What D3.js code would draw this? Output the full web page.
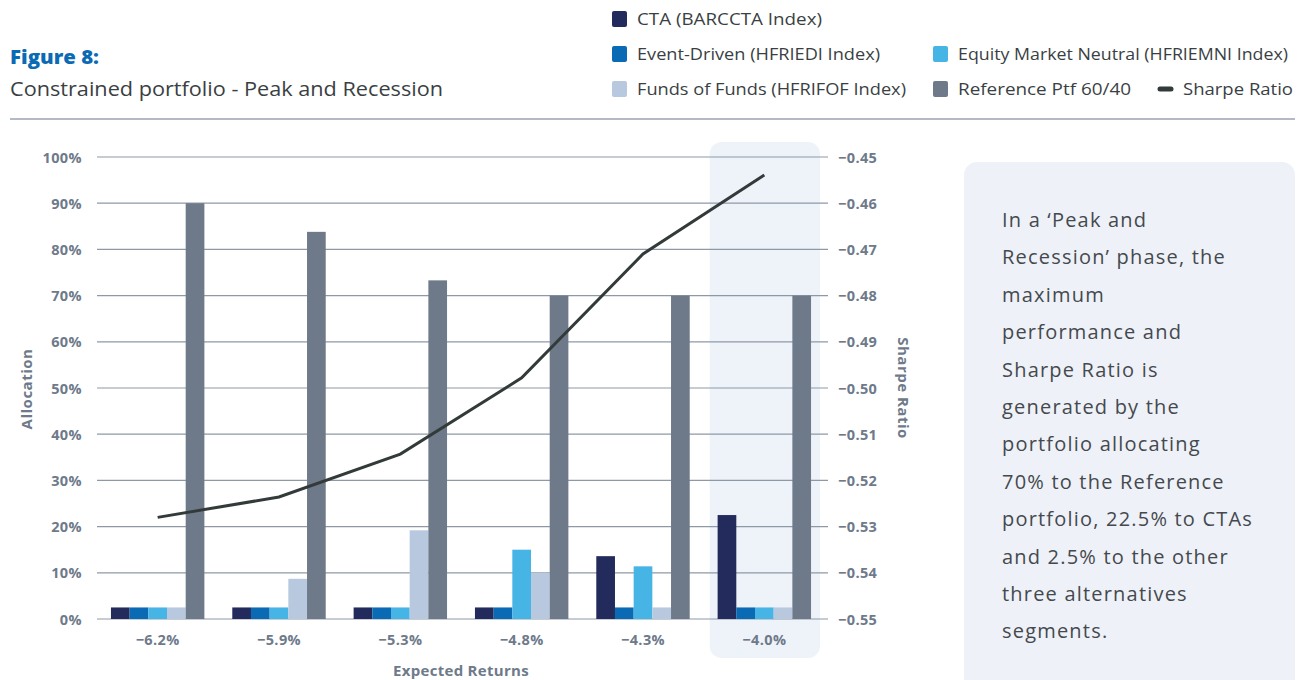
<!DOCTYPE html>
<html><head><meta charset="utf-8">
<script src="https://cdn.jsdelivr.net/npm/d3@7"></script>
<style>
body{margin:0;background:#fff;}
svg{display:block;font-family:"Open Sans",sans-serif;}
</style></head>
<body><svg id="c" width="1308" height="680"></svg>
<script>
const categories = ["-6.2%","-5.9%","-5.3%","-4.8%","-4.3%","-4.0%"];
const seriesNames = ["CTA (BARCCTA Index)","Event-Driven (HFRIEDI Index)","Equity Market Neutral (HFRIEMNI Index)","Funds of Funds (HFRIFOF Index)","Reference Ptf 60/40"];
const cta = [2.5,2.5,2.5,2.5,13.6,22.5];
const eventDriven = [2.5,2.5,2.5,2.5,2.5,2.5];
const equityMN = [2.5,2.5,2.5,15,11.4,2.5];
const fundsOfFunds = [2.5,8.7,19.2,10,2.5,2.5];
const referencePtf = [90,83.8,73.3,70,70,70];
const sharpe = [-0.528,-0.5236,-0.5143,-0.4978,-0.471,-0.4539];
const leftTicks = [0,10,20,30,40,50,60,70,80,90,100];
const rightTicks = [-0.55,-0.54,-0.53,-0.52,-0.51,-0.50,-0.49,-0.48,-0.47,-0.46,-0.45];
const colors = ["#232a5c","#0b6ab4","#47b4e6","#b8c8df","#6e7a8a"];
const lineColor = "#333b3a";
const highlighted = "-4.0%";

const series = [cta,eventDriven,equityMN,fundsOfFunds,referencePtf];
const svg = d3.select("#c");
const L=97, R=825, T=157, B=619;
const minus = s => String(s).replace("-","\u2212");

const x = d3.scaleBand().domain(categories).range([L,R]).paddingInner(0.23).paddingOuter(0.115);
const xc = d3.scaleBand().domain(categories).range([L,R]);
const xs = d3.scaleBand().domain(d3.range(series.length)).range([0,x.bandwidth()]);
const y = d3.scaleLinear().domain([0,100]).range([B,T]);
const y2 = d3.scaleLinear().domain([-0.55,-0.45]).range([B,T]);

// header
svg.append("text").attr("x",10).attr("y",64).attr("fill","#0b6ab4").attr("font-size",19).attr("font-weight",800).attr("textLength",89).attr("lengthAdjust","spacingAndGlyphs").text("Figure 8:");
svg.append("text").attr("x",10).attr("y",96).attr("fill","#3a3f44").attr("font-size",20).attr("textLength",433).attr("lengthAdjust","spacingAndGlyphs").text("Constrained portfolio - Peak and Recession");
svg.append("line").attr("x1",10).attr("x2",1295).attr("y1",119).attr("y2",119).attr("stroke","#b3bac6").attr("stroke-width",2);

// legend
const legendItems = [
 {i:0,x:612,y:19,w:185},{i:1,x:612,y:54,w:243},{i:2,x:933,y:54,w:330},{i:3,x:612,y:89,w:269},{i:4,x:933,y:89,w:173}
];
const lg = svg.append("g");
legendItems.forEach(d=>{
  lg.append("rect").attr("x",d.x).attr("y",d.y-8).attr("width",15).attr("height",16).attr("rx",2).attr("fill",colors[d.i]);
  lg.append("text").attr("x",d.x+25).attr("y",d.y+6).attr("font-size",17).attr("fill","#3a3f44")
    .attr("textLength",d.w).attr("lengthAdjust","spacingAndGlyphs").text(seriesNames[d.i]);
});
lg.append("line").attr("x1",1160).attr("x2",1171).attr("y1",89).attr("y2",89).attr("stroke",lineColor).attr("stroke-width",5).attr("stroke-linecap","round");
lg.append("text").attr("x",1183).attr("y",95).attr("font-size",17).attr("fill","#3a3f44").attr("textLength",110).attr("lengthAdjust","spacingAndGlyphs").text("Sharpe Ratio");

// highlight
svg.append("rect").attr("x",xc(highlighted)+6).attr("y",142).attr("width",xc.bandwidth()-11).attr("height",516).attr("rx",12).attr("fill","#eef3fa");

// grid
svg.append("g").selectAll("line").data(leftTicks).join("line")
 .attr("x1",L).attr("x2",R+3).attr("y1",d=>y(d)).attr("y2",d=>y(d))
 .attr("stroke","#8e99a6").attr("stroke-width",1.2);

const tickStyle = sel => sel.attr("font-size",14.5).attr("font-weight",700).attr("fill","#6e7a8a").attr("font-family","Open Sans").attr("letter-spacing",0.4);

const axL = svg.append("g").attr("transform",`translate(${L-12},0)`)
 .call(d3.axisLeft(y).tickValues(leftTicks).tickFormat(d=>d+"%").tickSize(0));
axL.select(".domain").remove();
tickStyle(axL.selectAll("text")).attr("dy","0.35em");

const axR = svg.append("g").attr("transform",`translate(${R+10},0)`)
 .call(d3.axisRight(y2).tickValues(rightTicks).tickFormat(d=>minus(d3.format(".2f")(d))).tickSize(0));
axR.select(".domain").remove();
tickStyle(axR.selectAll("text")).attr("dy","0.35em");

const axB = svg.append("g").attr("transform",`translate(0,${B+13})`)
 .call(d3.axisBottom(xc).tickSize(0).tickFormat(minus));
axB.select(".domain").remove();
tickStyle(axB.selectAll("text")).attr("dy","0.7em");

// bars
const g = svg.append("g");
categories.forEach((c,ci)=>{
  series.forEach((s,si)=>{
    g.append("rect").attr("x",x(c)+xs(si)).attr("width",xs.bandwidth())
     .attr("y",y(s[ci])).attr("height",B-y(s[ci])).attr("fill",colors[si]);
  });
});

// line
svg.append("path").datum(sharpe)
 .attr("d",d3.line().x((d,i)=>xc(categories[i])+xc.bandwidth()/2).y(d=>y2(d)))
 .attr("fill","none").attr("stroke",lineColor).attr("stroke-width",3);

// axis titles
svg.append("text").attr("transform","translate(32,389) rotate(-90)").attr("text-anchor","middle").attr("font-size",15).attr("font-weight",700).attr("fill","#6e7a8a").attr("letter-spacing",0.5).text("Allocation");
svg.append("text").attr("transform","translate(898,388) rotate(90)").attr("text-anchor","middle").attr("font-size",15).attr("font-weight",700).attr("fill","#6e7a8a").attr("letter-spacing",0.5).text("Sharpe Ratio");
svg.append("text").attr("x",461).attr("y",676).attr("text-anchor","middle").attr("font-size",15).attr("font-weight",700).attr("fill","#6e7a8a").attr("letter-spacing",0.3).text("Expected Returns");

// text box
svg.append("rect").attr("x",964).attr("y",162).attr("width",331).attr("height",540).attr("rx",13).attr("fill","#eef2f8");
const lines = ["In a \u2018Peak and","Recession\u2019 phase, the","maximum","performance and","Sharpe Ratio is","generated by the","portfolio allocating","70% to the Reference","portfolio, 22.5% to CTAs","and 2.5% to the other","three alternatives","segments."];
svg.append("g").selectAll("text").data(lines).join("text")
 .attr("x",1002).attr("y",(d,i)=>227+i*37.4).attr("font-size",20).attr("fill","#45494e").attr("letter-spacing",1.2).text(d=>d);
</script></body></html>
